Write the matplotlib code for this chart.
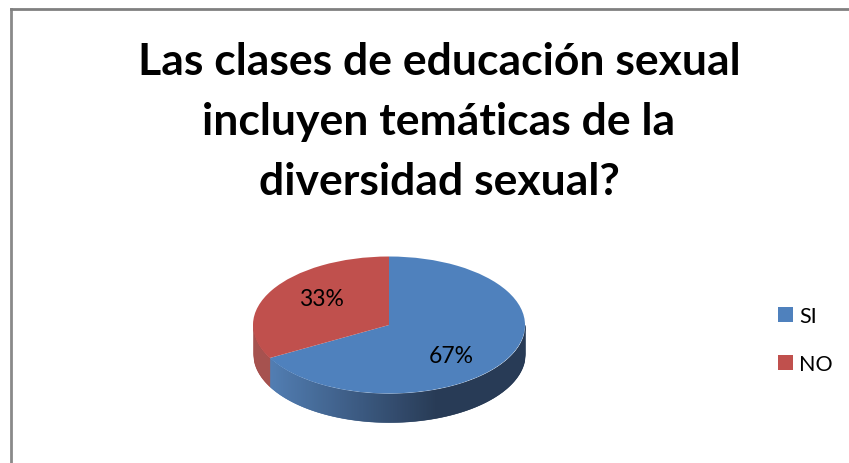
import numpy as np
import matplotlib
matplotlib.use('Agg')
import matplotlib.pyplot as plt
from matplotlib.colors import to_rgb

title = 'Las clases de educación sexual\nincluyen temáticas de la\ndiversidad sexual?'
labels = ['SI', 'NO']
values = [67, 33]
colors = ['#4F81BD', '#C0504D']

W, H = 849, 464
plt.rcParams['font.family'] = ['Lato', 'DejaVu Sans']

fig = plt.figure(figsize=(W / 100, H / 100), dpi=100, facecolor='white')

# border, only the left and top edges show
fig.add_artist(plt.Line2D([10.5 / W, 10.5 / W], [0, 1 - 9.5 / H], color='#8a8a8a', lw=2.0))
fig.add_artist(plt.Line2D([10.5 / W, 1], [1 - 9.5 / H, 1 - 9.5 / H], color='#808080', lw=2.0))

fig.text(439 / W, 1 - 122 / H, title, fontsize=32, fontweight='bold', color='black',
         ha='center', va='center', linespacing=1.62)

# pie is squashed into an ellipse by the axes box
cx, cy, rx, ry = 389, 326, 136, 68.5
depth = 28.5 / ry
ax = fig.add_axes([(cx - 1.1 * rx) / W, 1 - (cy + 1.6 * ry) / H, 2.2 * rx / W, 2.7 * ry / H])
wedges, texts, autotexts = ax.pie(values, colors=colors, startangle=90, counterclock=False,
                                  autopct='%1.0f%%', textprops={'fontsize': 16.5, 'color': 'black'})
ax.set_aspect('auto')
ax.set_xlim(-1.1, 1.1)
ax.set_ylim(-1.6, 1.1)
for w in wedges:
    w.set_zorder(3)
    w.set_linewidth(0)
autotexts[0].set_position((0.46, -0.44))
autotexts[1].set_position((-0.495, 0.38))
for t in autotexts:
    t.set_zorder(4)

# side wall, split where the slice boundary meets the front rim
split = np.sin(np.radians(360 * values[0] / sum(values)))
xs = np.linspace(-1, 1, 273)
blue_light, blue_dark = np.array(to_rgb('#4A78B0')), np.array(to_rgb('#1E324E'))
for x0, x1 in zip(xs[:-1], xs[1:]):
    y = np.array([-np.sqrt(max(1 - x0 ** 2, 0)), -np.sqrt(max(1 - x1 ** 2, 0))])
    mid = (x0 + x1) / 2
    if mid < split:
        c = '#A34A47'
    else:
        f = min((mid - split) / (0.35 - split), 1)
        c = tuple(blue_light + (blue_dark - blue_light) * f)
    ax.fill_between([x0, x1], y, y - depth, color=c, lw=0.4, zorder=2)

leg = fig.legend(handles=wedges, labels=labels, loc='upper left', frameon=False, fontsize=15.5,
                 bbox_to_anchor=(778 / W, 1 - 307 / H), handlelength=0.7, handleheight=0.7,
                 handletextpad=0.28, labelspacing=1.31, borderpad=0, borderaxespad=0)

fig.savefig('out.png', dpi=100)
